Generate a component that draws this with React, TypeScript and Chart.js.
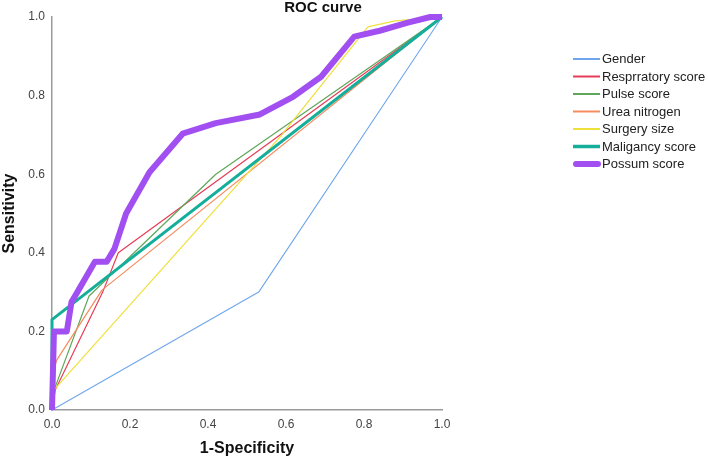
import { useEffect, useRef } from "react";
import { Chart, registerables } from "chart.js";

Chart.register(...registerables);

const chartTitle = "ROC curve";
const xAxisTitle = "1-Specificity";
const yAxisTitle = "Sensitivity";

const seriesNames = [
  "Gender",
  "Resprratory score",
  "Pulse score",
  "Urea nitrogen",
  "Surgery size",
  "Maligancy score",
  "Possum score",
];

// ROC coordinates: false positive rate (1-specificity) and true positive rate (sensitivity)
const genderFpr = [0, 0.53, 1];
const genderTpr = [0, 0.3, 1];

const respFpr = [0, 0.008, 0.13, 0.17, 1];
const respTpr = [0, 0.05, 0.3, 0.4, 1];

const pulseFpr = [0, 0.005, 0.095, 0.42, 1];
const pulseTpr = [0, 0.05, 0.29, 0.6, 1];

const ureaFpr = [0, 0, 0.012, 0.128, 1];
const ureaTpr = [0, 0.085, 0.127, 0.305, 1];

const surgeryFpr = [0, 0.004, 0.585, 0.81, 0.88, 1];
const surgeryTpr = [0, 0.05, 0.695, 0.975, 0.99, 1];

const malignancyFpr = [0, 0, 1];
const malignancyTpr = [0, 0.23, 1];

const possumFpr = [0, 0.005, 0.038, 0.05, 0.065, 0.11, 0.14, 0.16, 0.19, 0.25, 0.335, 0.42, 0.533, 0.618, 0.69, 0.775, 0.84, 0.91, 0.97, 1];
const possumTpr = [0, 0.2, 0.2, 0.275, 0.3, 0.377, 0.377, 0.41, 0.5, 0.605, 0.703, 0.73, 0.752, 0.797, 0.848, 0.95, 0.965, 0.985, 1, 1];

const yTickValues = [0, 0.2, 0.4, 0.6, 0.8, 1];

const seriesColors = ["#6fa6ee", "#e63c58", "#5ea65a", "#f68b5e", "#efe03c", "#14ae9a", "#a24ff2"];
const seriesWidths = [1.1, 1.2, 1.2, 1.2, 1.2, 3, 6];
const legendWidths = [2, 2, 2, 2, 2, 3.5, 6];

const toPoints = (xs: number[], ys: number[]) => xs.map((x, i) => ({ x, y: ys[i] }));

const seriesPoints = [
  toPoints(genderFpr, genderTpr),
  toPoints(respFpr, respTpr),
  toPoints(pulseFpr, pulseTpr),
  toPoints(ureaFpr, ureaTpr),
  toPoints(surgeryFpr, surgeryTpr),
  toPoints(malignancyFpr, malignancyTpr),
  toPoints(possumFpr, possumTpr),
];

const FONT = '"Liberation Sans", Arial, sans-serif';

// Draws the chart heading and the line-sample legend on the right.
const overlayPlugin = {
  id: "rocOverlay",
  afterDraw(chart: any) {
    const ctx = chart.ctx as CanvasRenderingContext2D;
    ctx.save();
    ctx.font = `bold 15px ${FONT}`;
    ctx.fillStyle = "#111";
    ctx.textAlign = "center";
    ctx.textBaseline = "middle";
    ctx.fillText(chartTitle, 323, 8);

    ctx.font = `13px ${FONT}`;
    ctx.textAlign = "left";
    seriesNames.forEach((name, i) => {
      const y = 59 + i * 17.5;
      ctx.beginPath();
      ctx.strokeStyle = seriesColors[i];
      ctx.lineWidth = legendWidths[i];
      ctx.lineCap = i === 6 ? "round" : "butt";
      ctx.moveTo(i === 6 ? 576 : 573, y);
      ctx.lineTo(i === 6 ? 598 : 600, y);
      ctx.stroke();
      ctx.fillStyle = "#222";
      ctx.fillText(name, 602, y + 0.5);
    });
    ctx.restore();
  },
};

export default function App() {
  const canvasRef = useRef<HTMLCanvasElement | null>(null);

  useEffect(() => {
    if (!canvasRef.current) return;
    const datasets = seriesNames.map((name, i) => ({
      label: name,
      data: seriesPoints[i],
      borderColor: seriesColors[i],
      backgroundColor: seriesColors[i],
      borderWidth: seriesWidths[i],
      pointRadius: 0,
      pointHoverRadius: 0,
      tension: 0,
      fill: false,
      showLine: true,
      borderJoinStyle: "round" as const,
      order: seriesNames.length - i,
      clip: 8,
    }));

    const chart = new Chart(canvasRef.current, {
      type: "line",
      data: { datasets },
      plugins: [overlayPlugin],
      options: {
        animation: false,
        responsive: false,
        maintainAspectRatio: false,
        layout: { padding: { left: 0, top: 17, right: 266, bottom: 0 } },
        plugins: {
          legend: { display: false },
          title: { display: false },
          tooltip: { enabled: false },
        },
        scales: {
          x: {
            type: "linear",
            min: 0,
            max: 1,
            grid: { display: false, drawTicks: false },
            border: { display: true, color: "#9a9a9a", width: 1.5 },
            ticks: {
              stepSize: 0.2,
              padding: 7,
              color: "#444",
              font: { family: FONT, size: 12 },
              callback: (v: any) => Number(v).toFixed(1),
            },
            title: {
              display: true,
              text: xAxisTitle,
              color: "#111",
              font: { family: FONT, size: 16, weight: "bold" },
              padding: { top: 0, bottom: 4 },
            },
            afterFit: (scale: any) => {
              scale.height = 52;
            },
          },
          y: {
            type: "linear",
            min: 0,
            max: 1,
            grid: { display: false, drawTicks: false },
            border: { display: true, color: "#9a9a9a", width: 1.5 },
            afterBuildTicks: (scale: any) => {
              scale.ticks = yTickValues.map((value) => ({ value }));
            },
            ticks: {
              padding: 7,
              color: "#444",
              font: { family: FONT, size: 12 },
              callback: (v: any) => Number(v).toFixed(1),
            },
            title: {
              display: true,
              text: yAxisTitle,
              color: "#111",
              font: { family: FONT, size: 16, weight: "bold" },
              padding: { top: 0, bottom: 0 },
            },
            afterFit: (scale: any) => {
              scale.width = 52;
            },
          },
        },
      },
    });
    return () => chart.destroy();
  }, []);

  return (
    <div style={{ position: "fixed", left: 0, top: 0, width: 708, height: 462, background: "#fff" }}>
      <canvas ref={canvasRef} width={708} height={462} style={{ width: 708, height: 462, display: "block" }} />
    </div>
  );
}
